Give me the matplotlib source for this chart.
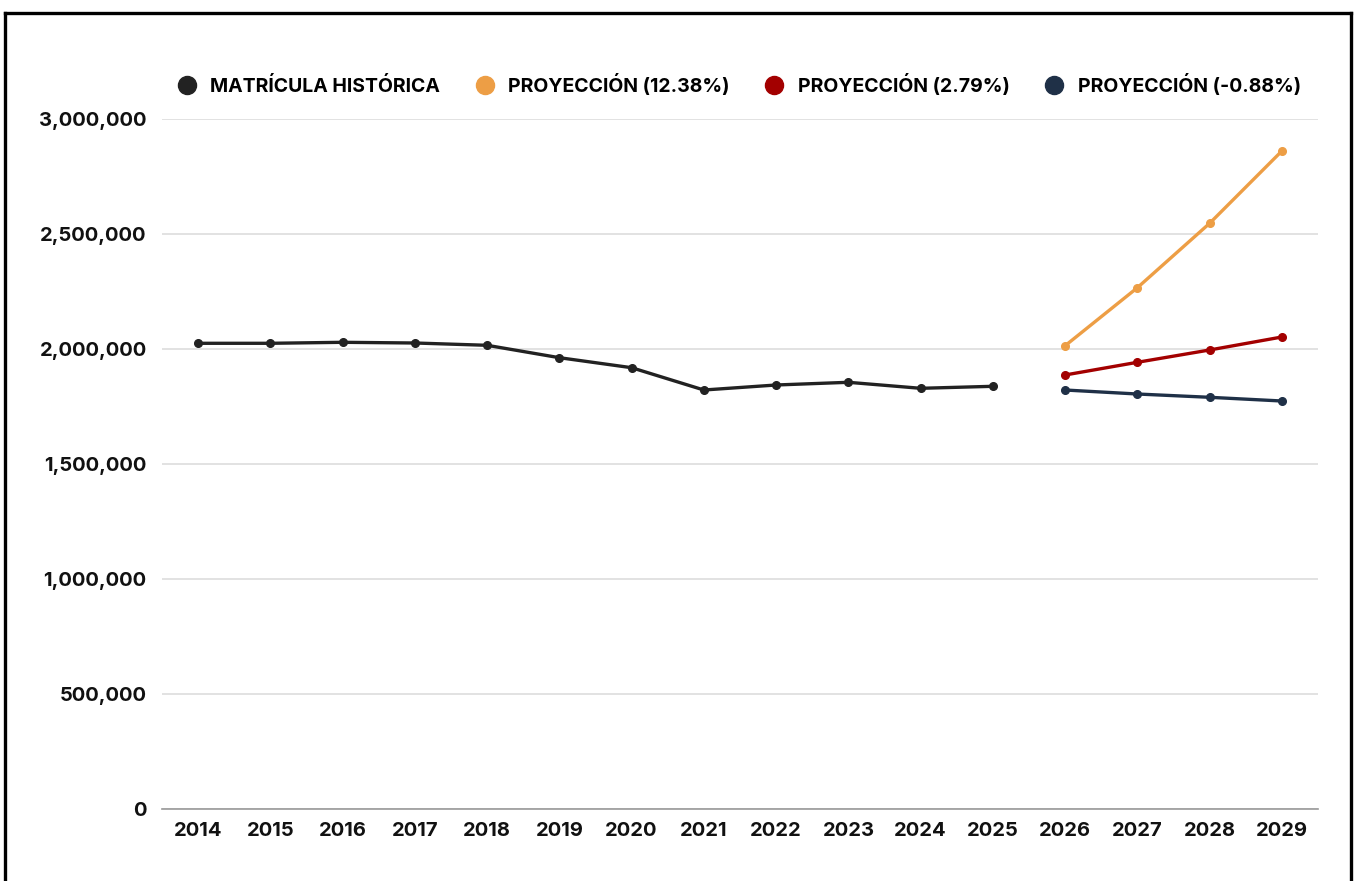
import numpy as np
import matplotlib
matplotlib.use('Agg')
import matplotlib.pyplot as plt
from matplotlib.lines import Line2D
from matplotlib.ticker import FuncFormatter

# data
years = ['2014', '2015', '2016', '2017', '2018', '2019', '2020', '2021',
         '2022', '2023', '2024', '2025', '2026', '2027', '2028', '2029']
historico = [2024800, 2024800, 2029100, 2026100, 2016100, 1962200, 1918700, 1821700,
             1843500, 1855200, 1829100, 1837800]
proy_alta = [2014300, 2266500, 2546500, 2860900]
proy_media = [1887000, 1942200, 1995700, 2052200]
proy_baja = [1821700, 1804300, 1790000, 1773900]

labels = ['MATRÍCULA HISTÓRICA', 'PROYECCIÓN (12.38%)', 'PROYECCIÓN (2.79%)', 'PROYECCIÓN (-0.88%)']
colors = ['#222222', '#ED9E45', '#A30000', '#1F3047']

plt.rcParams['font.family'] = ['Inter', 'DejaVu Sans']

fig = plt.figure(figsize=(13.58, 8.81), dpi=100)
ax = fig.add_axes([162 / 1358, 72 / 881, 1156 / 1358, 690 / 881])

x_hist = np.arange(len(historico))
x_proy = np.arange(len(historico), len(years))

ax.plot(x_hist, historico, color=colors[0], lw=2.4, marker='o', ms=5.5, zorder=3)
ax.plot(x_proy, proy_alta, color=colors[1], lw=2.4, marker='o', ms=5.5, zorder=3)
ax.plot(x_proy, proy_media, color=colors[2], lw=2.4, marker='o', ms=5.5, zorder=3)
ax.plot(x_proy, proy_baja, color=colors[3], lw=2.4, marker='o', ms=5.5, zorder=3)

ax.set_xlim(-0.5, len(years) - 0.5)
ax.set_ylim(0, 3000000)
ax.set_xticks(np.arange(len(years)))
ax.set_xticklabels(years)
ax.set_yticks(np.arange(0, 3000001, 500000))
ax.yaxis.set_major_formatter(FuncFormatter(lambda v, p: f'{int(v):,}'))

ax.grid(axis='y', color='#dddddd', lw=1.2, zorder=0)
for s in ['top', 'right', 'left']:
    ax.spines[s].set_visible(False)
ax.spines['bottom'].set_color('#999999')
ax.spines['bottom'].set_linewidth(1.2)
ax.tick_params(axis='both', length=0, labelsize=14.5, colors='#111111')
ax.tick_params(axis='y', pad=11)
ax.tick_params(axis='x', pad=9)
for t in ax.get_xticklabels() + ax.get_yticklabels():
    t.set_fontweight('bold')

# legend
handles = [Line2D([], [], ls='none', marker='o', ms=13, color=c) for c in colors]
leg = fig.legend(handles, labels, loc='center', bbox_to_anchor=(734 / 1358, 1 - 85 / 881),
                 ncol=4, frameon=False, handletextpad=0.2, columnspacing=1.3,
                 prop={'size': 14, 'weight': 'bold'})

# frame around the figure (no bottom edge)
for xs, ys in [([5 / 1358, 5 / 1358], [0, 1 - 12.5 / 881]),
               ([5 / 1358, 1350.5 / 1358], [1 - 12.5 / 881, 1 - 12.5 / 881]),
               ([1350.5 / 1358, 1350.5 / 1358], [1 - 12.5 / 881, 0])]:
    fig.add_artist(Line2D(xs, ys, color='black', lw=2.4, transform=fig.transFigure))

fig.savefig('out.png', dpi=100, facecolor='white')
